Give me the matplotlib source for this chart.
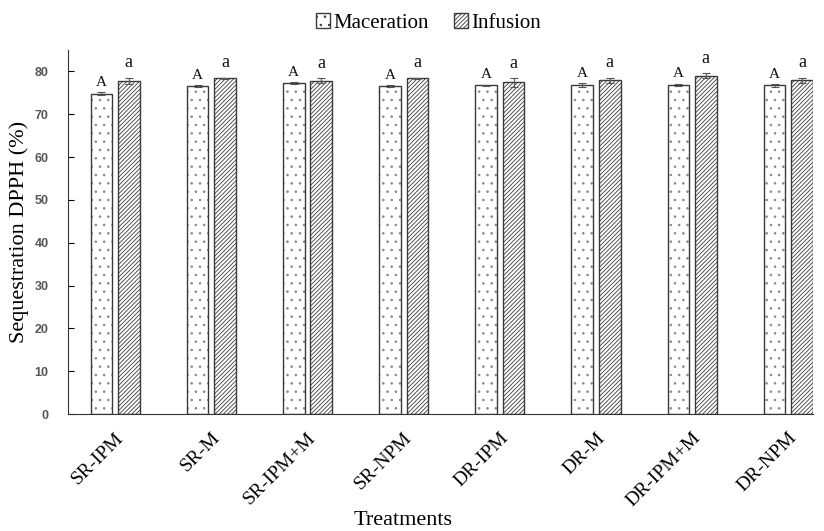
import numpy as np
import matplotlib
matplotlib.use("Agg")
import matplotlib.pyplot as plt
from matplotlib.patches import Patch

# data
treatments = ['SR-IPM', 'SR-M', 'SR-IPM+M', 'SR-NPM', 'DR-IPM', 'DR-M', 'DR-IPM+M', 'DR-NPM']
maceration = [74.8, 76.5, 77.3, 76.5, 76.7, 76.8, 76.8, 76.7]
maceration_err = [0.3, 0.2, 0.2, 0.2, 0.2, 0.4, 0.3, 0.3]
infusion = [77.8, 78.4, 77.8, 78.4, 77.4, 77.9, 79.0, 77.9]
infusion_err = [0.7, 0.1, 0.6, 0.1, 1.0, 0.6, 0.6, 0.6]
mac_letters = ['A'] * 8
inf_letters = ['a'] * 8

plt.rcParams['hatch.linewidth'] = 0.6
serif = 'Liberation Serif'

fig = plt.figure(figsize=(8.24, 5.31), dpi=100)
ax = fig.add_axes([0.0825, 0.2203, 0.9045, 0.6857])

x = np.arange(len(treatments))
w = 0.225
off = 0.143
ekw = dict(ecolor='#555555', elinewidth=0.8, capsize=3, capthick=0.8)

# grey dots first, then the dark outline on top
ax.bar(x - off, maceration, w, color='white', edgecolor='#888888', linewidth=0, hatch='..')
ax.bar(x - off, maceration, w, yerr=maceration_err, fill=False, edgecolor='#3a3a3a',
       linewidth=1.0, error_kw=ekw)
ax.bar(x + off, infusion, w, yerr=infusion_err, color='white', edgecolor='#3a3a3a',
       linewidth=1.0, hatch='////////', error_kw=ekw)

for i in range(len(treatments)):
    ax.text(x[i] - off, maceration[i] + maceration_err[i] + 0.8, mac_letters[i], ha='center', va='bottom',
            fontsize=11, family=serif, color='#111111')
    ax.text(x[i] + off, infusion[i] + infusion_err[i] + 1.5, inf_letters[i], ha='center', va='bottom',
            fontsize=13, family=serif, color='#111111')

ax.set_xlim(-0.49, 7.26)
ax.set_ylim(0, 85)
ax.set_yticks(np.arange(0, 81, 10))
ax.set_xticks(x)
ax.set_xticklabels(treatments, rotation=45, ha='right', rotation_mode='anchor',
                   fontsize=14, family=serif)
ax.tick_params(axis='x', length=0, pad=11)
ax.tick_params(axis='y', direction='in', length=4, labelsize=9, labelcolor='#555555', pad=14)
for lab in ax.get_yticklabels():
    lab.set_fontweight('bold')
    lab.set_family('Liberation Sans')

ax.spines['top'].set_visible(False)
ax.spines['right'].set_visible(False)
ax.spines['left'].set_color('#333333')
ax.spines['bottom'].set_color('#333333')

ax.set_ylabel('Sequestration DPPH (%)', fontsize=16, family=serif, labelpad=4)
ax.set_xlabel('Treatments', fontsize=16, family=serif)
ax.xaxis.set_label_coords(0.45, -0.265)

handles = [Patch(facecolor='white', edgecolor='#3a3a3a', hatch='..', label='Maceration'),
           Patch(facecolor='white', edgecolor='#3a3a3a', hatch='////////', label='Infusion')]
fig.legend(handles=handles, loc='upper center', bbox_to_anchor=(0.52, 1.01), ncol=2, frameon=False,
           handlelength=0.7, handleheight=0.7, handletextpad=0.15, columnspacing=1.2,
           prop={'family': serif, 'size': 15})

plt.savefig('out.png', dpi=100)
